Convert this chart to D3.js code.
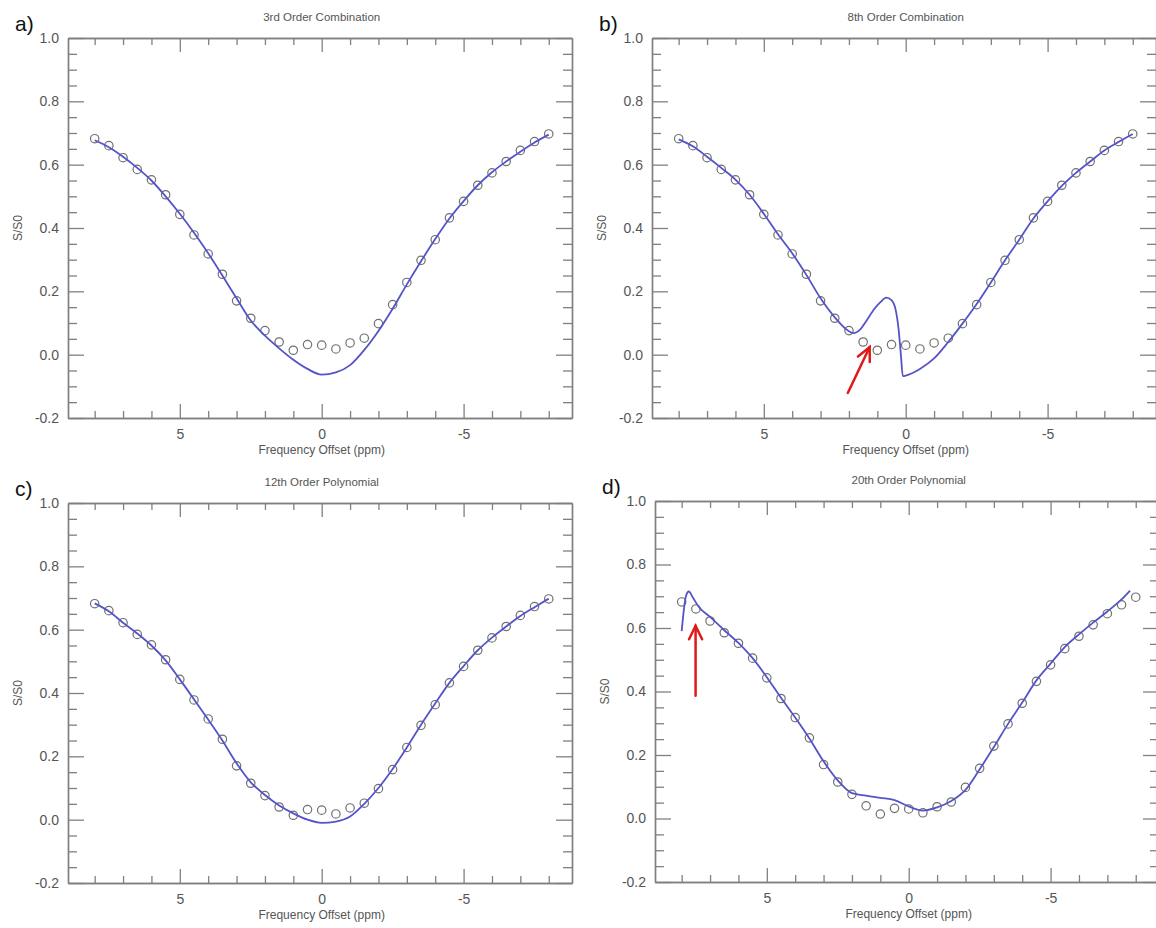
<!DOCTYPE html>
<html>
<head>
<meta charset="utf-8">
<script src="https://cdn.jsdelivr.net/npm/d3@7"></script>
<style>
  body { margin: 0; background: #fff; }
  svg text { font-family: "Liberation Sans", Arial, sans-serif; }
</style>
</head>
<body>
<svg id="chart" width="1156" height="928"></svg>
<script>
// measured z-spectrum, same in all four panels
const offsets = [8, 7.5, 7, 6.5, 6, 5.5, 5, 4.5, 4, 3.5, 3, 2.5, 2, 1.5, 1, 0.5, 0,
                 -0.5, -1, -1.5, -2, -2.5, -3, -3.5, -4, -4.5, -5, -5.5, -6, -6.5, -7, -7.5, -8];
const signal = [0.682, 0.660, 0.622, 0.585, 0.552, 0.505, 0.443, 0.378, 0.318, 0.254, 0.170,
                0.115, 0.076, 0.040, 0.014, 0.032, 0.030, 0.018, 0.037, 0.052, 0.098, 0.158,
                0.228, 0.298, 0.363, 0.432, 0.484, 0.535, 0.574, 0.610, 0.645, 0.673, 0.697];

// fitted curves [offset, S/S0]
const fit3rd = [[8, 0.677], [7.5, 0.655], [7, 0.625], [6.5, 0.59], [6, 0.55], [5.5, 0.5], [5, 0.445],
  [4.5, 0.385], [4, 0.32], [3.5, 0.25], [3, 0.178], [2.5, 0.108], [2, 0.06], [1.5, 0.02], [1, -0.016],
  [0.5, -0.045], [0, -0.063], [-0.5, -0.056], [-1, -0.033], [-1.5, 0.015], [-2, 0.075], [-2.5, 0.145],
  [-3, 0.222], [-3.5, 0.295], [-4, 0.365], [-4.5, 0.43], [-5, 0.485], [-5.5, 0.535], [-6, 0.576],
  [-6.5, 0.61], [-7, 0.641], [-7.5, 0.67], [-8, 0.695]];

const fit8th = [[8, 0.68], [7.5, 0.658], [7, 0.625], [6.5, 0.59], [6, 0.553], [5.5, 0.505], [5, 0.445],
  [4.5, 0.38], [4, 0.32], [3.5, 0.252], [3, 0.178], [2.5, 0.118], [2, 0.074], [1.85, 0.068],
  [1.6, 0.08], [1.4, 0.105], [1.1, 0.145], [0.9, 0.165], [0.68, 0.18], [0.5, 0.172], [0.35, 0.14],
  [0.25, 0.08], [0.17, 0.0], [0.1, -0.068], [0, -0.066], [-0.5, -0.045], [-1, -0.012], [-1.5, 0.04],
  [-2, 0.098], [-2.5, 0.16], [-3, 0.228], [-3.5, 0.298], [-4, 0.363], [-4.5, 0.43], [-5, 0.484],
  [-5.5, 0.533], [-6, 0.574], [-6.5, 0.61], [-7, 0.645], [-7.5, 0.672], [-8, 0.697]];

const fit12th = [[8, 0.683], [7.5, 0.658], [7, 0.622], [6.5, 0.588], [6, 0.55], [5.5, 0.503], [5, 0.443],
  [4.5, 0.38], [4, 0.316], [3.5, 0.25], [3, 0.178], [2.5, 0.118], [2, 0.078], [1.5, 0.045], [1, 0.02],
  [0.5, 0.0], [0, -0.01], [-0.5, -0.006], [-1, 0.01], [-1.5, 0.05], [-2, 0.1], [-2.5, 0.16],
  [-3, 0.228], [-3.5, 0.3], [-4, 0.367], [-4.5, 0.432], [-5, 0.485], [-5.5, 0.535], [-6, 0.575],
  [-6.5, 0.61], [-7, 0.643], [-7.5, 0.671], [-8, 0.698]];

const fit20th = [[8, 0.59], [7.85, 0.70], [7.75, 0.715], [7.6, 0.695], [7.4, 0.667], [7, 0.635],
  [6.5, 0.593], [6, 0.553], [5.5, 0.505], [5, 0.445], [4.5, 0.38], [4, 0.318], [3.5, 0.252], [3, 0.18],
  [2.5, 0.12], [2, 0.08], [1.5, 0.072], [1, 0.065], [0.5, 0.058], [0, 0.038], [-0.5, 0.025],
  [-1, 0.035], [-1.5, 0.055], [-2, 0.09], [-2.5, 0.155], [-3, 0.225], [-3.5, 0.298], [-4, 0.365],
  [-4.5, 0.435], [-5, 0.488], [-5.5, 0.54], [-6, 0.58], [-6.5, 0.617], [-7, 0.652], [-7.5, 0.69],
  [-7.8, 0.718]];

// ticks
const xMajor = [5, 0, -5];
const xMinor = [8, 7, 6, 4, 3, 2, 1, -1, -2, -3, -4, -6, -7, -8];
const yMajor = [-0.2, 0.0, 0.2, 0.4, 0.6, 0.8, 1.0];
const yMinor = [-0.15, -0.1, -0.05, 0.05, 0.1, 0.15, 0.25, 0.3, 0.35, 0.45, 0.5, 0.55,
                0.65, 0.7, 0.75, 0.85, 0.9, 0.95];

const panels = [
  {tag: "a)", title: "3rd Order Combination", fit: fit3rd, left: 68, top: 38, height: 380},
  {tag: "b)", title: "8th Order Combination", fit: fit8th, left: 652, top: 38, height: 380,
   arrow: {from: [2.04, -0.121], to: [1.27, 0.024]}},
  {tag: "c)", title: "12th Order Polynomial", fit: fit12th, left: 68, top: 503, height: 380},
  {tag: "d)", title: "20th Order Polynomial", fit: fit20th, left: 655, top: 501, height: 381,
   arrow: {from: [7.51, 0.387], to: [7.51, 0.607]}}
];

const svg = d3.select("#chart");
const axisColor = "#808080";
const textColor = "#555";
// plain hyphen for negative labels, like the original plot
const fmtX = d => String(d);
const fmtY = d => d3.format(".1f")(d).replace("\u2212", "-");

panels.forEach(function(p) {
  let w = 504;
  let x = d3.scaleLinear().domain([8.94, -8.82]).range([p.left, p.left + w]);
  let y = d3.scaleLinear().domain([-0.2, 1.0]).range([p.top + p.height, p.top]);
  let g = svg.append("g");

  // tick marks on all four sides, pointing inward
  let drawAxis = function(axis, tx, ty, labels) {
    let a = g.append("g").attr("transform", "translate(" + tx + "," + ty + ")").call(axis);
    a.select(".domain").attr("stroke", axisColor).attr("stroke-width", 1.4);
    a.selectAll(".tick line").attr("stroke", axisColor).attr("stroke-width", 1.3);
    if (!labels) a.selectAll(".tick text").remove();
    return a;
  };

  let bx = drawAxis(d3.axisBottom(x).tickValues(xMajor).tickSizeInner(-14).tickSizeOuter(0)
    .tickPadding(20).tickFormat(fmtX), 0, p.top + p.height, true);
  bx.selectAll(".tick text").attr("font-size", 14).attr("fill", textColor).attr("dy", "0.1em");
  drawAxis(d3.axisBottom(x).tickValues(xMinor).tickSize(-7).tickSizeOuter(0), 0, p.top + p.height, false);
  drawAxis(d3.axisTop(x).tickValues(xMajor).tickSize(-14).tickSizeOuter(0), 0, p.top, false);
  drawAxis(d3.axisTop(x).tickValues(xMinor).tickSize(-7).tickSizeOuter(0), 0, p.top, false);

  let ly = drawAxis(d3.axisLeft(y).tickValues(yMajor).tickSizeInner(-16).tickSizeOuter(0)
    .tickPadding(9).tickFormat(fmtY), p.left, 0, true);
  ly.selectAll(".tick text").attr("font-size", 14).attr("fill", textColor)
    .attr("x", -9);
  drawAxis(d3.axisLeft(y).tickValues(yMinor).tickSize(-9).tickSizeOuter(0), p.left, 0, false);
  drawAxis(d3.axisRight(y).tickValues(yMajor).tickSize(-16).tickSizeOuter(0), p.left + w, 0, false);
  drawAxis(d3.axisRight(y).tickValues(yMinor).tickSize(-9).tickSizeOuter(0), p.left + w, 0, false);

  // measured points
  g.selectAll("circle").data(offsets).enter().append("circle")
    .attr("cx", d => x(d))
    .attr("cy", (d, i) => y(signal[i]))
    .attr("r", 4.2)
    .attr("fill", "none")
    .attr("stroke", "#707070")
    .attr("stroke-width", 1.2);

  // fit
  let line = d3.line().x(d => x(d[0])).y(d => y(d[1])).curve(d3.curveMonotoneX);
  g.append("path").datum(p.fit)
    .attr("d", line)
    .attr("fill", "none")
    .attr("stroke", "#5454c8")
    .attr("stroke-width", 1.8);

  // texts
  g.append("text").text(p.title)
    .attr("x", x(0)).attr("y", p.top - 17)
    .attr("text-anchor", "middle").attr("font-size", 11.5).attr("fill", textColor);
  g.append("text").text("Frequency Offset (ppm)")
    .attr("x", x(0)).attr("y", p.top + p.height + 36)
    .attr("text-anchor", "middle").attr("font-size", 12).attr("fill", textColor);
  g.append("text").text("S/S0")
    .attr("transform", "translate(" + (p.left - 46) + "," + (p.top + p.height / 2) + ") rotate(-90)")
    .attr("text-anchor", "middle").attr("font-size", 12).attr("fill", textColor);
  g.append("text").text(p.tag)
    .attr("x", p.left - 53).attr("y", p.top - 7)
    .attr("font-size", 21).attr("fill", "#111");

  // red arrow
  if (p.arrow) {
    let x1 = x(p.arrow.from[0]), y1 = y(p.arrow.from[1]);
    let x2 = x(p.arrow.to[0]), y2 = y(p.arrow.to[1]);
    let ang = Math.atan2(y2 - y1, x2 - x1);
    let head = 15, spread = 0.45;
    let a = g.append("g").attr("stroke", "#e01818").attr("stroke-width", 2.5)
      .attr("fill", "none").attr("stroke-linecap", "round");
    a.append("line").attr("x1", x1).attr("y1", y1).attr("x2", x2).attr("y2", y2);
    a.append("path").attr("d", "M" + (x2 - head * Math.cos(ang - spread)) + "," + (y2 - head * Math.sin(ang - spread)) +
      "L" + x2 + "," + y2 +
      "L" + (x2 - head * Math.cos(ang + spread)) + "," + (y2 - head * Math.sin(ang + spread)));
  }
});
</script>
</body>
</html>
